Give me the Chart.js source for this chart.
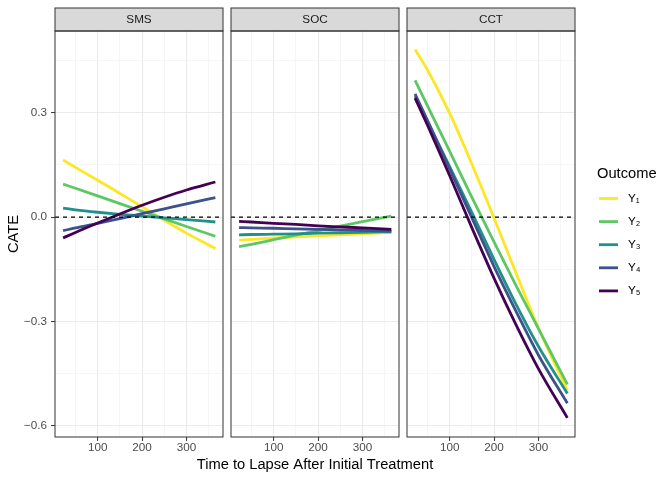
<!DOCTYPE html>
<html>
<head>
<meta charset="utf-8">
<script src="https://cdn.jsdelivr.net/npm/chart.js@4.4.0/dist/chart.umd.min.js"></script>
<style>
html, body { margin: 0; padding: 0; background: #ffffff; overflow: hidden; }
#wrap { position: relative; width: 671px; height: 480px; background: #ffffff; }
#wrap canvas { position: absolute; left: 0; top: 0; }
</style>
</head>
<body>
<div id="wrap">
  <canvas id="c1" width="671" height="480"></canvas>
  <canvas id="c2" width="671" height="480"></canvas>
  <canvas id="c3" width="671" height="480"></canvas>
</div>
<script>
// ---------------- data ----------------
const panels = ['SMS', 'SOC', 'CCT'];
const outcomes = ['Y\u2081', 'Y\u2082', 'Y\u2083', 'Y\u2084', 'Y\u2085'];
const timePoints = [22, 50, 100, 150, 200, 250, 300, 365];

const smsY1 = [0.164, 0.143, 0.106, 0.068, 0.030, -0.009, -0.046, -0.090];
const smsY2 = [0.095, 0.083, 0.061, 0.039, 0.017, -0.005, -0.027, -0.055];
const smsY3 = [0.026, 0.021, 0.014, 0.008, 0.003, -0.002, -0.007, -0.014];
const smsY4 = [-0.039, -0.031, -0.018, -0.004, 0.010, 0.024, 0.038, 0.056];
const smsY5 = [-0.060, -0.044, -0.017, 0.009, 0.034, 0.057, 0.078, 0.101];

const socY1 = [-0.066, -0.064, -0.060, -0.057, -0.054, -0.051, -0.048, -0.044];
const socY2 = [-0.085, -0.078, -0.065, -0.052, -0.039, -0.026, -0.013, 0.003];
const socY3 = [-0.051, -0.050, -0.049, -0.048, -0.046, -0.045, -0.044, -0.042];
const socY4 = [-0.030, -0.031, -0.032, -0.034, -0.035, -0.037, -0.038, -0.040];
const socY5 = [-0.012, -0.014, -0.018, -0.021, -0.025, -0.028, -0.031, -0.035];

const cctY1 = [0.482, 0.423, 0.298, 0.152, -0.003, -0.163, -0.319, -0.499];
const cctY2 = [0.393, 0.320, 0.189, 0.057, -0.072, -0.198, -0.321, -0.481];
const cctY3 = [0.348, 0.275, 0.145, 0.013, -0.122, -0.252, -0.372, -0.507];
const cctY4 = [0.354, 0.278, 0.138, -0.002, -0.142, -0.272, -0.397, -0.535];
const cctY5 = [0.342, 0.264, 0.119, -0.031, -0.176, -0.311, -0.436, -0.577];

const xTicks = [50, 100, 150, 200, 250, 300, 350];
const xTickLabels = ['', '100', '', '200', '', '300', ''];
const yTicks = [-0.6, -0.45, -0.3, -0.15, 0, 0.15, 0.3, 0.45];
const yTickLabels = ['\u22120.6', '', '\u22120.3', '', '0.0', '', '0.3', ''];
const xRange = [3.8, 382.2];
const yRange = [-0.632, 0.535];
const refLine = [0];

const xTitle = 'Time to Lapse After Initial Treatment';
const yTitle = 'CATE';
const legendTitle = 'Outcome';

// ---------------- style / layout ----------------
const colors = ['#FDE725', '#5DC863', '#21908C', '#3B528B', '#440154'];
const FONT = '"Liberation Sans", Arial, "DejaVu Sans", sans-serif';
Chart.defaults.font.family = FONT;
const W = 671;
const panelBox = [
  { left: 55, right: 223 },
  { left: 231, right: 399 },
  { left: 407, right: 575 }
];

const isMajorX = v => xTickLabels[xTicks.indexOf(v)] !== '';
const isMajorY = v => {
  const i = yTicks.findIndex(t => Math.abs(t - v) < 1e-9);
  return i >= 0 && yTickLabels[i] !== '';
};

const panelPlugin = {
  id: 'panelDeco',
  afterDatasetsDraw(chart) {
    const { ctx, chartArea: a } = chart;
    const y0 = chart.scales.y.getPixelForValue(refLine[0]);
    ctx.save();
    ctx.strokeStyle = '#000000';
    ctx.lineWidth = 1.1;
    ctx.setLineDash([4, 4]);
    ctx.beginPath();
    ctx.moveTo(a.left, y0);
    ctx.lineTo(a.right, y0);
    ctx.stroke();
    ctx.restore();
  },
  afterDraw(chart, args, opts) {
    const { ctx, chartArea: a } = chart;
    ctx.save();
    // strip
    ctx.fillStyle = '#D9D9D9';
    ctx.fillRect(a.left, a.top - 23, a.right - a.left, 23);
    ctx.strokeStyle = '#333333';
    ctx.lineWidth = 1;
    ctx.strokeRect(a.left, a.top - 23, a.right - a.left, 23);
    ctx.fillStyle = '#1A1A1A';
    ctx.font = '11.7px ' + FONT;
    ctx.textAlign = 'center';
    ctx.textBaseline = 'middle';
    ctx.fillText(opts.text, (a.left + a.right) / 2, a.top - 11.5);
    // panel border
    ctx.strokeRect(a.left, a.top, a.right - a.left, a.bottom - a.top);
    // x axis title on the middle panel
    if (opts.xTitle) {
      ctx.fillStyle = '#000000';
      ctx.font = '14.7px ' + FONT;
      ctx.fillText(opts.xTitle, (a.left + a.right) / 2, 465);
    }
    // legend beside the last panel
    if (opts.legend) {
      ctx.textAlign = 'left';
      ctx.fillStyle = '#000000';
      ctx.font = '14.7px ' + FONT;
      ctx.fillText(legendTitle, 597, 174);
      const items = chart.data.datasets.slice().sort((p, q) => p.legendIndex - q.legendIndex);
      items.forEach((ds, k) => {
        const yy = 198.5 + k * 23.1;
        ctx.strokeStyle = ds.borderColor;
        ctx.lineWidth = 2.8;
        ctx.beginPath();
        ctx.moveTo(599, yy);
        ctx.lineTo(618, yy);
        ctx.stroke();
        ctx.fillStyle = '#000000';
        ctx.font = '11.7px ' + FONT;
        ctx.fillText(ds.label, 628, yy);
      });
    }
    ctx.restore();
  }
};

function gridOpts(isMajor, withTicks) {
  return {
    color: c => (c.tick && isMajor(c.tick.value)) ? '#EBEBEB' : '#F2F2F2',
    lineWidth: c => (c.tick && isMajor(c.tick.value)) ? 1.1 : 0.7,
    drawTicks: withTicks,
    tickLength: 4,
    tickWidth: 1,
    tickColor: c => (c.tick && isMajor(c.tick.value)) ? '#333333' : 'rgba(0,0,0,0)'
  };
}

function makePanel(idx, series) {
  const box = panelBox[idx];
  const first = idx === 0;
  const datasets = series.map((vals, k) => ({
    label: outcomes[k],
    legendIndex: k,
    data: timePoints.map((t, j) => ({ x: t, y: vals[j] })),
    borderColor: colors[k],
    backgroundColor: colors[k],
    borderWidth: 2.8,
    pointRadius: 0,
    pointHoverRadius: 0,
    fill: false,
    cubicInterpolationMode: 'monotone',
    order: 5 - k
  }));
  return new Chart(document.getElementById('c' + (idx + 1)), {
    type: 'line',
    data: { datasets },
    plugins: [panelPlugin],
    options: {
      responsive: false,
      animation: false,
      events: [],
      layout: { padding: { top: 31, bottom: 0, left: first ? 0 : box.left, right: W - box.right } },
      plugins: {
        legend: { display: false },
        tooltip: { enabled: false },
        panelDeco: { text: panels[idx], xTitle: idx === 1 ? xTitle : null, legend: idx === 2 }
      },
      scales: {
        x: {
          type: 'linear',
          min: xRange[0],
          max: xRange[1],
          afterBuildTicks: s => { s.ticks = xTicks.map(v => ({ value: v })); },
          afterFit: s => { s.height = 43; },
          border: { display: false },
          grid: gridOpts(isMajorX, true),
          ticks: {
            autoSkip: false,
            maxRotation: 0,
            padding: 0,
            color: '#4D4D4D',
            font: { size: 11.7 },
            callback: v => xTickLabels[xTicks.indexOf(v)]
          }
        },
        y: {
          type: 'linear',
          min: yRange[0],
          max: yRange[1],
          afterBuildTicks: s => { s.ticks = yTicks.map(v => ({ value: v })); },
          afterFit: s => { s.width = first ? 55 : 0; },
          border: { display: false },
          grid: gridOpts(isMajorY, first),
          title: first ? {
            display: true, text: yTitle, color: '#000000',
            font: { size: 14.7 }, padding: { top: 5, bottom: 0 }
          } : { display: false },
          ticks: {
            display: first,
            autoSkip: false,
            padding: 4,
            color: '#4D4D4D',
            font: { size: 11.7 },
            callback: v => {
              const i = yTicks.findIndex(t => Math.abs(t - v) < 1e-9);
              return i >= 0 ? yTickLabels[i] : '';
            }
          }
        }
      }
    }
  });
}

makePanel(0, [smsY1, smsY2, smsY3, smsY4, smsY5]);
makePanel(1, [socY1, socY2, socY3, socY4, socY5]);
makePanel(2, [cctY1, cctY2, cctY3, cctY4, cctY5]);
</script>
</body>
</html>
